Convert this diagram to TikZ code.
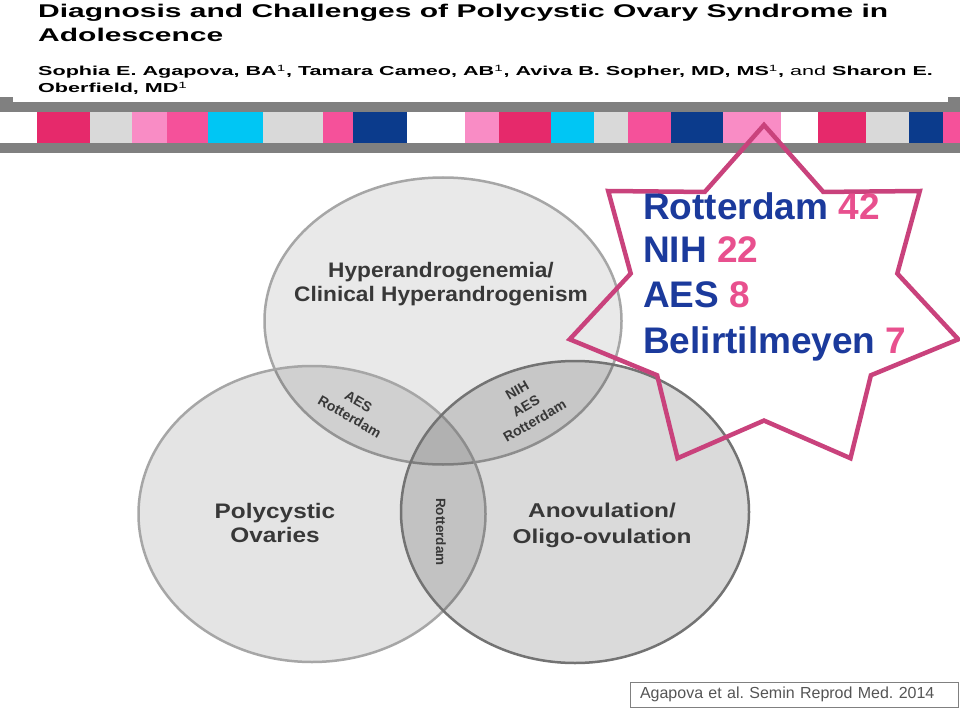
\documentclass[tikz,border=0pt]{standalone}
\usepackage{fontspec}
\setmainfont{Liberation Sans}
\usepackage{graphicx}
\usetikzlibrary{shapes.geometric}
\frenchspacing

\definecolor{crimson}{HTML}{E6296B}
\definecolor{stripegrey}{HTML}{D9D9D9}
\definecolor{softpink}{HTML}{F98CC5}
\definecolor{hotpink}{HTML}{F5519A}
\definecolor{skyblue}{HTML}{00C6F4}
\definecolor{darknavy}{HTML}{0B3B8C}
\definecolor{bargrey}{HTML}{808080}
\definecolor{rimgrey}{HTML}{A6A6A6}
\definecolor{rimdark}{HTML}{737373}
\definecolor{labelgrey}{HTML}{383838}
\definecolor{starpink}{HTML}{C9427C}
\definecolor{countblue}{HTML}{1B3A9C}
\definecolor{countpink}{HTML}{E8508E}
\definecolor{citegrey}{HTML}{555555}

\newcommand{\widen}[2]{\scalebox{#1}[1]{#2}}

\tikzset{
  venn/.style 2 args={ellipse, draw=#1, line width=2.5pt, fill=black, fill opacity=#2, inner sep=0pt},
  setlabel/.style={font=\bfseries\fontsize{21}{24}\selectfont, text=labelgrey, align=center, inner sep=0pt},
  lens/.style={font=\bfseries\fontsize{14}{17.5}\selectfont, text=labelgrey, align=center, inner sep=0pt},
  headline/.style={anchor=base west, inner sep=0pt},
  count/.style={anchor=base west, inner sep=0pt, text=countblue, font=\bfseries\fontsize{37}{44}\selectfont},
  starline/.style={draw=starpink, line width=4.5pt, line join=miter},
  cite/.style={draw=bargrey, line width=0.8pt, text=citegrey, font=\fontsize{16}{18}\selectfont,
    text width=308pt, inner xsep=10pt, minimum height=25pt, align=left}
}

\begin{document}
\begin{tikzpicture}[x=1pt, y=-1pt]
  \fill[white] (0,0) rectangle (960,708);
  \useasboundingbox (0,0) rectangle (960,708);

  % header
  \node[headline] (title) at (38,17.3) {\widen{1.63}{\fontsize{18.4}{22}\selectfont\bfseries Diagnosis and Challenges of Polycystic Ovary Syndrome in}};
  \node[headline] (title2) at (38,42) {\widen{1.63}{\fontsize{18.4}{22}\selectfont\bfseries Adolescence}};
  \node[headline] (authors) at (38,76) {\widen{1.66}{\fontsize{13}{16}\selectfont\bfseries Sophia E. Agapova, BA\textsuperscript{\mdseries 1}, Tamara Cameo, AB\textsuperscript{\mdseries 1}, Aviva B. Sopher, MD, MS\textsuperscript{\mdseries 1}, {\mdseries and} Sharon E.}};
  \node[headline] (authors2) at (38,92.7) {\widen{1.66}{\fontsize{13}{16}\selectfont\bfseries Oberfield, MD\textsuperscript{\mdseries 1}}};

  % stripe
  \fill[bargrey] (0,102) rectangle (960,153);
  \fill[bargrey] (0,97) rectangle (13,102);
  \fill[bargrey] (948,97) rectangle (960,102);
  \foreach \xa/\xb/\col in {0/37/white, 37/90/crimson, 90/132/stripegrey, 132/167/softpink,
      167/208/hotpink, 208/263/skyblue, 263/323/stripegrey, 323/353/hotpink, 353/407/darknavy,
      407/465/white, 465/499/softpink, 499/551/crimson, 551/594/skyblue, 594/628/stripegrey,
      628/671/hotpink, 671/723/darknavy, 723/781/softpink, 781/818/white, 818/866/crimson,
      866/909/stripegrey, 909/943/darknavy, 943/960/hotpink}
    \fill[\col] (\xa,112) rectangle (\xb,143);

  % venn
  \node[venn={rimgrey}{0.085}, minimum width=357pt, minimum height=287pt] (hyper) at (443,321) {};
  \node[venn={rimgrey}{0.105}, minimum width=347pt, minimum height=296pt] (pco) at (312,514) {};
  \node[venn={rimdark}{0.145}, minimum width=348pt, minimum height=302pt] (anov) at (575,512) {};

  \node[setlabel] (hypertext) at (441,284.5) {\widen{1.08}{Hyperandrogenemia/}\\\widen{1.08}{Clinical Hyperandrogenism}};
  \node[setlabel] (pcotext) at (275,523) {\widen{1.16}{Polycystic}\\\widen{1.16}{Ovaries}};
  \node[setlabel, font=\bfseries\fontsize{20}{26}\selectfont] (anovtext) at (602,525) {\widen{1.22}{Anovulation/}\\\widen{1.22}{Oligo-ovulation}};

  \node[lens, rotate=-30] (aesrot) at (354,409) {AES\\Rotterdam};
  \node[lens, rotate=30] (nihaesrot) at (526,406) {NIH\\AES\\Rotterdam};
  \node[lens, rotate=-90, font=\bfseries\fontsize{13.5}{16}\selectfont] (rotonly) at (441,532) {Rotterdam};

  % star
  \draw[starline] plot[samples at={0,...,13}, variable=\k]
    ({764 + (1-0.314*mod(\k,2))*199.3*cos(90+\k*360/14)}, {300.3 - (1-0.314*mod(\k,2))*175.3*sin(90+\k*360/14)}) -- cycle;

  \node[count] (rotterdam) at (643,220) {Rotterdam \textcolor{countpink}{42}};
  \node[count] (nih) at (643,263) {NIH \textcolor{countpink}{22}};
  \node[count] (aes) at (643,308) {AES \textcolor{countpink}{8}};
  \node[count] (other) at (643,353) {Belirtilmeyen \textcolor{countpink}{7}};

  % source
  \node[cite] (source) at (794,694.5) {Agapova et al. Semin Reprod Med. 2014};
\end{tikzpicture}
\end{document}
